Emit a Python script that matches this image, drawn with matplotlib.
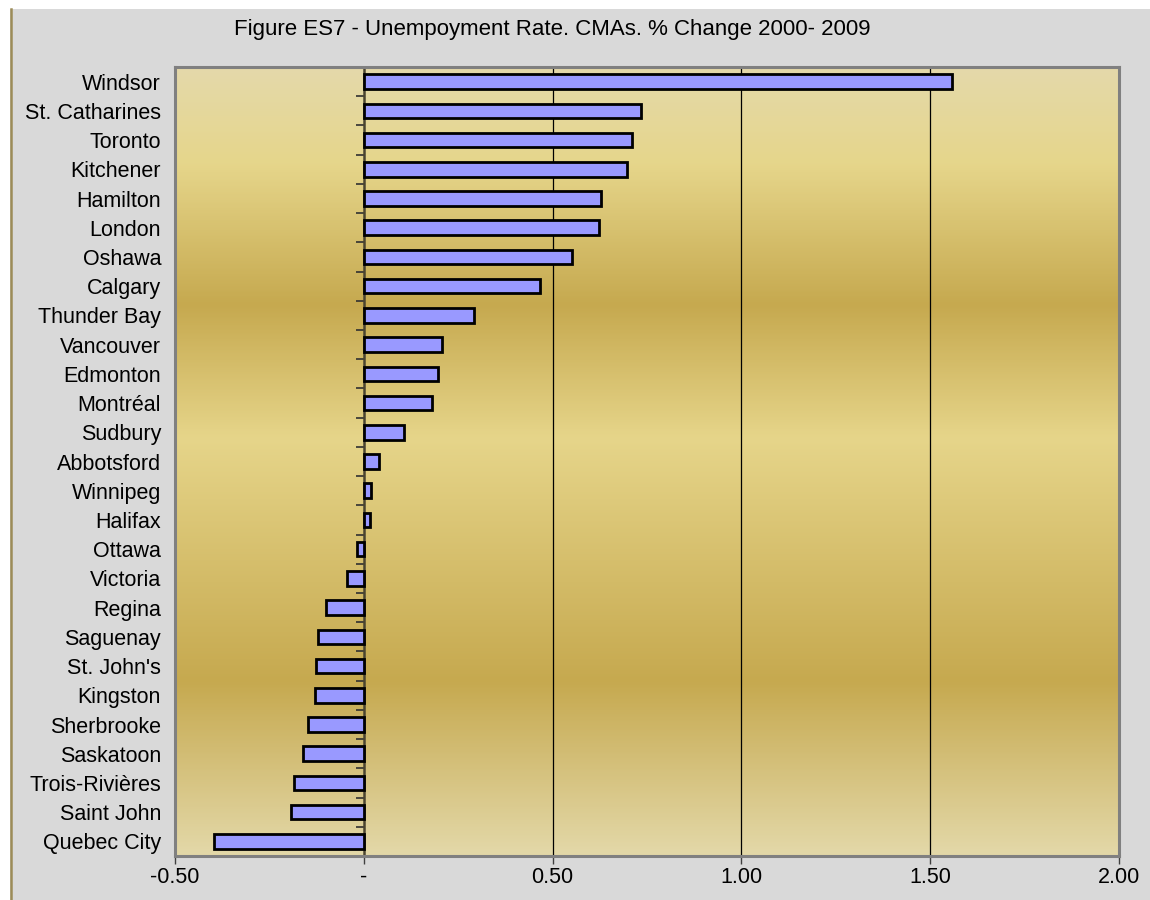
import numpy as np
import matplotlib
matplotlib.use('Agg')
from matplotlib import pyplot as plt
from matplotlib.colors import LinearSegmentedColormap
from matplotlib.patches import Rectangle
from matplotlib.lines import Line2D

# data, top to bottom
cities = ['Windsor', 'St. Catharines', 'Toronto', 'Kitchener', 'Hamilton', 'London',
          'Oshawa', 'Calgary', 'Thunder Bay', 'Vancouver', 'Edmonton', 'Montréal',
          'Sudbury', 'Abbotsford', 'Winnipeg', 'Halifax', 'Ottawa', 'Victoria',
          'Regina', 'Saguenay', "St. John's", 'Kingston', 'Sherbrooke', 'Saskatoon',
          'Trois-Rivières', 'Saint John', 'Quebec City']
change = [1.558, 0.734, 0.710, 0.697, 0.628, 0.623,
          0.551, 0.466, 0.292, 0.207, 0.196, 0.180,
          0.106, 0.040, 0.019, 0.016, -0.019, -0.045,
          -0.100, -0.122, -0.127, -0.130, -0.148, -0.162,
          -0.186, -0.192, -0.396]
xticks = [-0.5, 0, 0.5, 1.0, 1.5, 2.0]
xticklabels = ['-0.50', '-', '0.50', '1.00', '1.50', '2.00']
title = 'Figure ES7 - Unempoyment Rate. CMAs. % Change 2000- 2009'

plt.rcParams['font.family'] = ['Liberation Sans', 'DejaVu Sans']

fig = plt.figure(figsize=(11.5, 9), dpi=100, facecolor='white')
# grey chart area with olive left edge
fig.patches.append(Rectangle((10 / 1150, 0), 1, 1 - 9 / 900, transform=fig.transFigure,
                             facecolor='#D9D9D9', edgecolor='none', zorder=-10))
fig.lines.append(Line2D([10.5 / 1150, 10.5 / 1150], [0, 1 - 9 / 900], transform=fig.transFigure,
                        color='#9C8C58', lw=1.8))

ax = fig.add_axes([175 / 1150, 1 - 856 / 900, (1119 - 175) / 1150, (856 - 67) / 900])

n = len(cities)
ypos = np.arange(n)

# gold banded background
cmap = LinearSegmentedColormap.from_list('gold', [
    (0.0, '#E4D9AA'), (0.12, '#E6D68B'), (0.30, '#C6A94F'),
    (0.47, '#E6D58A'), (0.78, '#C6A94F'), (1.0, '#E3D8A8')])
grad = np.linspace(0, 1, 400).reshape(-1, 1)
ax.imshow(grad, cmap=cmap, aspect='auto', extent=[-0.5, 2.0, n - 0.5, -0.5],
          interpolation='bicubic', zorder=0)

ax.barh(ypos, change, height=0.5, color='#9999FF', edgecolor='black', linewidth=2.0, zorder=3)

ax.set_xlim(-0.5, 2.0)
ax.set_ylim(n - 0.5, -0.5)

for gx in [0.5, 1.0, 1.5]:
    ax.axvline(gx, color='black', lw=0.9, zorder=1)

ax.set_xticks(xticks)
ax.set_xticklabels(xticklabels, fontsize=15.5)
ax.set_yticks(ypos)
ax.set_yticklabels(cities, fontsize=15.5)
ax.tick_params(axis='y', length=0, pad=10)
ax.tick_params(axis='x', direction='out', length=6, width=1, color='#404040', pad=2)

for s in ax.spines.values():
    s.set_color('#808080')
    s.set_linewidth(2.2)

# zero axis with category ticks
sec = ax.secondary_yaxis(0.2)
sec.set_yticks(np.arange(n + 1) - 0.5)
sec.set_yticklabels([])
sec.tick_params(axis='y', direction='out', length=6, width=1.2, color='#303030')
sec.spines['left'].set_color('#4A4430')
sec.spines['left'].set_linewidth(1.8)

fig.text(552 / 1150, 1 - 30 / 900, title, fontsize=16, ha='center', va='center')

fig.savefig('out.png', dpi=100, facecolor=fig.get_facecolor())
